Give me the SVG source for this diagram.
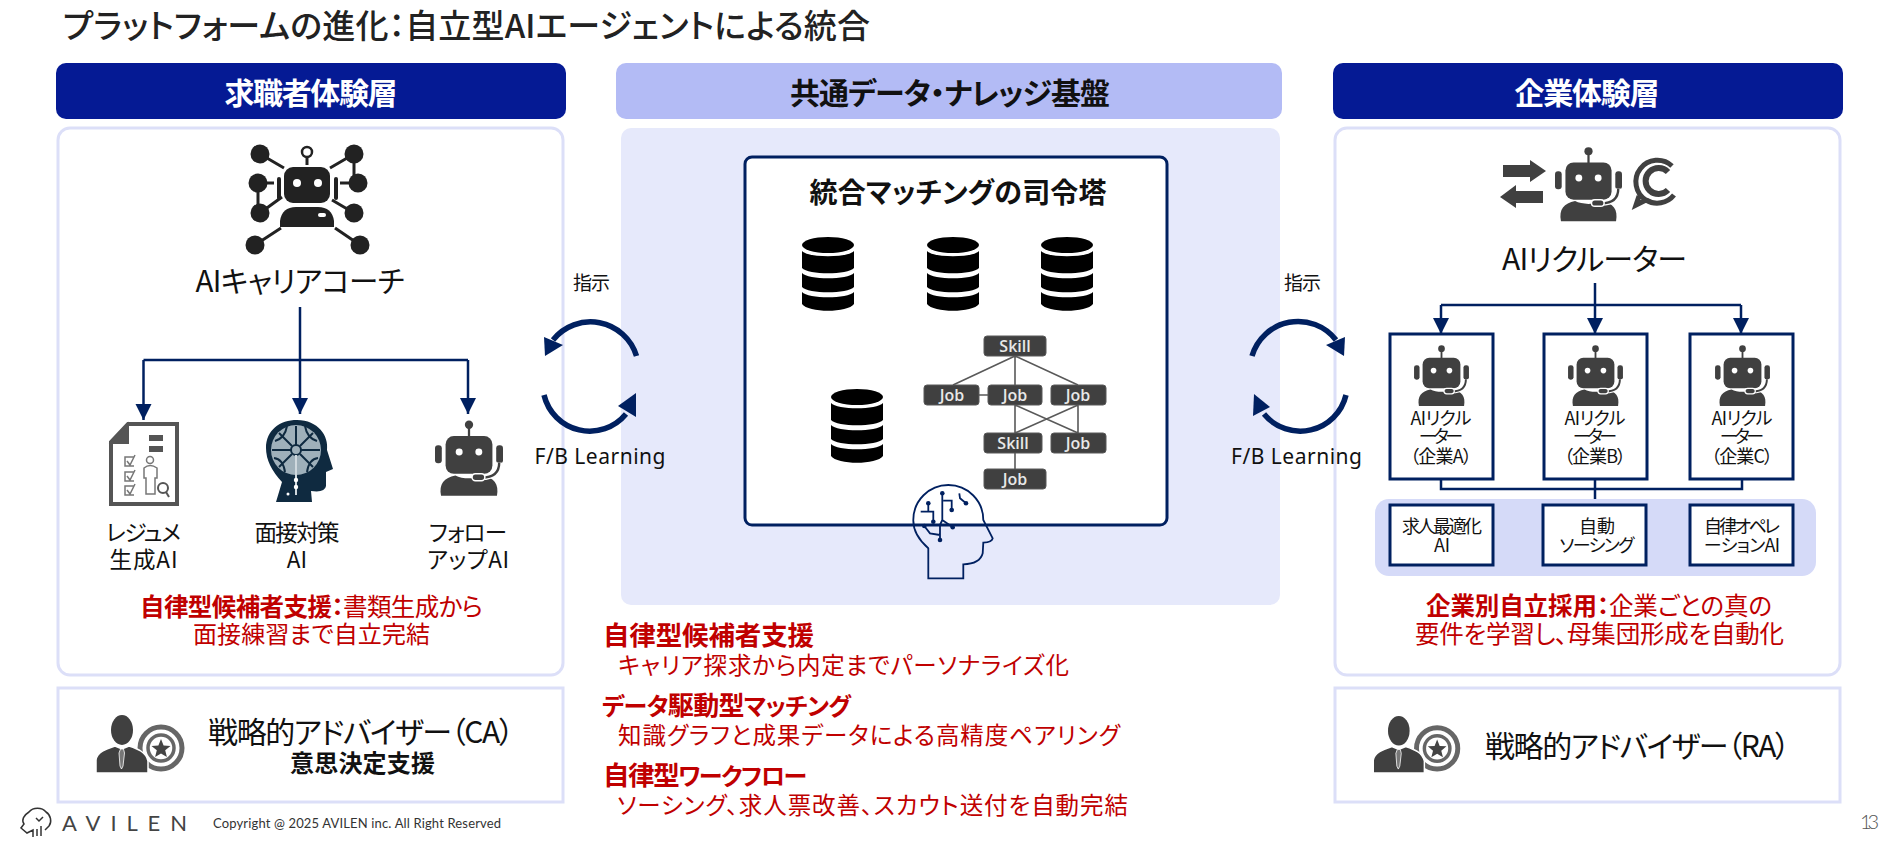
<svg xmlns="http://www.w3.org/2000/svg" width="1899" height="845" viewBox="0 0 1899 845">
<style>
text{font-family:"Noto Sans CJK JP","Noto Sans",sans-serif;font-feature-settings:"palt";fill:#111}
.c{text-anchor:middle}
.b{font-weight:700}
.red{fill:#c00000}
.hw{fill:#fff;font-weight:700;font-size:30px}
.lbl{font-size:22.500px}
.sm{font-size:18px}
.gt{font-family:"Open Sans",sans-serif;font-size:16px;font-weight:600;fill:#e8e8e8;text-anchor:middle}
.gb{fill:#404040;stroke:#595959;stroke-width:1}
.panel{fill:#fff;stroke:#dcdff8;stroke-width:3}
.box{fill:#fff;stroke:#002060;stroke-width:3}
.wire{fill:none;stroke:#002060;stroke-width:2.5}
.loop{fill:none;stroke:#002060;stroke-width:5.5}
.glink{stroke:#595959;stroke-width:1.6;fill:none}
.fb{font-family:"Noto Sans",sans-serif;font-size:21px;text-anchor:middle}
</style>
<defs>
<marker id="tip" markerUnits="userSpaceOnUse" markerWidth="17" markerHeight="17" refX="16" refY="8" orient="auto"><path d="M0 0L16 8L0 16Z" fill="#002060"/></marker>
<symbol id="db" viewBox="0 0 52 74" overflow="visible">
<ellipse cx="26" cy="8" rx="26" ry="8" fill="#000"/>
<path d="M0 14C6 21 46 21 52 14V31C46 38 6 38 0 31Z" fill="#000"/>
<path d="M0 36C6 43 46 43 52 36V50C46 57 6 57 0 50Z" fill="#000"/>
<path d="M0 55C6 62 46 62 52 55V67C46 76 6 76 0 67Z" fill="#000"/>
</symbol>
<symbol id="robot" viewBox="0 0 90 100" overflow="visible">
<g fill="#404040">
<circle cx="45" cy="6" r="5.500"/><rect x="43.500" y="9" width="3" height="14"/>
<rect x="14" y="21" width="62" height="50" rx="11"/>
<rect x="0" y="33" width="9" height="24" rx="4"/><rect x="81" y="33" width="9" height="24" rx="4"/>
<path d="M8 100C5 84 12 76 27 73C36 78 54 78 63 73C78 76 85 84 82 100Z"/>
</g>
<circle cx="32" cy="42" r="4.600" fill="#fff"/><circle cx="58" cy="42" r="4.600" fill="#fff"/>
<path d="M85 56C85 70 76 76 62 76" fill="none" stroke="#fff" stroke-width="6.500"/>
<path d="M85 56C85 70 76 76 62 76" fill="none" stroke="#404040" stroke-width="3.200"/>
<rect x="49" y="71" width="17" height="9" rx="4.500" fill="#404040" stroke="#fff" stroke-width="2"/>
</symbol>
<symbol id="adv" viewBox="0 0 88 58" overflow="visible">
<circle cx="65" cy="33" r="21" fill="#fff" stroke="#666" stroke-width="5"/>
<circle cx="65" cy="33" r="13" fill="#fff" stroke="#666" stroke-width="3.500"/>
<path d="M65 24L67.600 30.400L74.500 30.900L69.200 35.300L70.900 42L65 38.400L59.100 42L60.800 35.300L55.500 30.900L62.400 30.400Z" fill="#444"/>
<ellipse cx="26" cy="15" rx="11" ry="15" fill="#404040"/>
<path d="M0 58V45C1 37 10 34 19 31L26 34L33 31C42 34 50 37 52 46V58Z" fill="#404040" stroke="#fff" stroke-width="1.500"/>
<path d="M24.500 34h3l1 4l-1.500 13l-1.500 3l-1.500 -3l-1 -13z" fill="#777" stroke="#fff" stroke-width="0.800"/>
</symbol>
</defs>

<rect width="1899" height="845" fill="#fff"/>
<text id="title" x="63" y="38" font-size="33" style="fill:#222;font-weight:500" textLength="807" lengthAdjust="spacing">プラットフォームの進化：自立型AIエージェントによる統合</text>

<g id="seeker-header"><rect x="56" y="63" width="510" height="56" rx="10" fill="#051a94"/><text x="311" y="104" class="hw c" textLength="173">求職者体験層</text></g>
<g id="seeker-panel"><rect x="58" y="128" width="505" height="547" rx="12" class="panel"/></g>

<g id="base-header"><rect x="616" y="63" width="666" height="56" rx="10" fill="#b3bbf5"/><text x="950" y="104" class="c b" font-size="30" textLength="320">共通データ・ナレッジ基盤</text></g>
<g id="base-panel"><rect x="621" y="128" width="659" height="477" rx="10" fill="#e6e9fb"/></g>

<g id="company-header"><rect x="1333" y="63" width="510" height="56" rx="10" fill="#051a94"/><text x="1587" y="104" class="hw c" textLength="145">企業体験層</text></g>
<g id="company-panel"><rect x="1335" y="128" width="505" height="547" rx="12" class="panel"/></g>

<g id="ai-coach">
<g stroke="#222" stroke-width="3" fill="none"><path d="M260 154L284 168M354 154L330 168M354 154V183M258 183H274M358 183H340M258 183V213M260 213L282 197M354 213L332 200M255 245L281 228M360 245L335 228M307 157V165"/></g>
<g fill="#222"><circle cx="260" cy="154" r="9.500"/><circle cx="354" cy="154" r="9.500"/><circle cx="258" cy="183" r="9.500"/><circle cx="358" cy="183" r="9.500"/><circle cx="260" cy="213" r="9.500"/><circle cx="354" cy="213" r="9.500"/><circle cx="255" cy="245" r="9.500"/><circle cx="360" cy="245" r="9.500"/>
<rect x="284" y="167" width="46" height="36" rx="9"/><rect x="277" y="177" width="4" height="23" rx="2"/><rect x="334" y="177" width="4" height="23" rx="2"/>
<path d="M280 227V221Q282 207 296 207H318Q332 207 334 221V227Z"/></g>
<circle cx="307" cy="152" r="5" fill="#fff" stroke="#222" stroke-width="2.500"/>
<circle cx="297" cy="183" r="4" fill="#fff"/><circle cx="318" cy="183" r="4" fill="#fff"/><rect x="318" y="213" width="8" height="4" rx="2" fill="#fff"/>
<text x="300" y="292" class="c" font-size="29.500" textLength="209">AIキャリアコーチ</text>
</g>

<g id="resume-ai">
<path d="M128 424H177V504H111V442Z" fill="#fff" stroke="#555" stroke-width="4"/>
<path d="M111 443L128 424V443Z" fill="#555" stroke="#555" stroke-width="2"/>
<g fill="#555"><rect x="149" y="435" width="14" height="6"/><rect x="149" y="446" width="14" height="6"/></g>
<g fill="none" stroke="#777" stroke-width="1.500"><path d="M134 457H125V466H134M127 461L130 465L135 455M134 472H125V481H134M127 476L130 480L135 470M134 486H125V495H134M127 490L130 494L135 484"/><circle cx="150" cy="460" r="3.500"/><path d="M146 494V478H144V468Q150 463 157 468V478H155V494Z"/><circle cx="163" cy="488" r="5" stroke="#555" stroke-width="2"/><path d="M166 492L169 497" stroke="#555" stroke-width="2"/></g>
<text x="143.500" y="541" class="lbl c" textLength="75">レジュメ</text><text x="143.500" y="568" class="lbl c" textLength="68">生成AI</text>
</g>
<g id="interview-ai">
<path d="M276 502L282 482Q266 465 266 448C266 430 280 420 297 420C318 420 329 436 327 450L333 469L326 472V486Q325 493 311 491L312 502Z" fill="#0f2a40"/>
<circle cx="296" cy="450" r="25" fill="#9fb0ba"/>
<g fill="none" stroke="#0f2a40" stroke-width="2"><circle cx="296" cy="450" r="5"/><path d="M296 445V426M291 450H272M301 450H320M292 446L279 433M300 446L313 433M292 454L279 467M300 454L313 467M287 426Q285 438 275 441M305 426Q307 438 317 441M274 458Q283 459 285 472M318 458Q309 459 307 472"/></g>
<path d="M296 455V495" stroke="#cfd8de" stroke-width="2"/>
<g fill="#fff"><circle cx="296" cy="487" r="2.200"/><circle cx="296" cy="480" r="2.200"/><circle cx="288" cy="494" r="1.500"/></g>
<text x="297" y="541" class="lbl c" textLength="85">面接対策</text><text x="297" y="568" class="lbl c">AI</text>
</g>
<g id="followup-ai">
<use href="#robot" x="435" y="420" width="68" height="76"/>
<text x="468" y="541" class="lbl c" textLength="78">フォロー</text><text x="468" y="568" class="lbl c" textLength="82">アップAI</text>
</g>
<g id="seeker-note">
<text x="140" y="616" font-size="24.500" class="red" textLength="343"><tspan class="b red">自律型候補者支援：</tspan>書類生成から</text>
<text x="193" y="643" font-size="24" class="red" textLength="237">面接練習まで自立完結</text>
</g>
<g id="advisor-ca">
<rect x="58" y="688" width="505" height="114" class="panel"/>
<use href="#adv" x="96" y="715" width="88" height="58"/>
<text x="208" y="743" font-size="30" textLength="306">戦略的アドバイザー（CA）</text>
<text x="362.500" y="772" font-size="24" class="c b" textLength="145">意思決定支援</text>
</g>

<g id="command-tower">
<rect x="745" y="157" width="422" height="368" rx="7" class="box"/>
<text x="958" y="203" font-size="28" class="c b" textLength="297">統合マッチングの司令塔</text>
<use href="#db" x="802" y="237" width="52" height="74"/><use href="#db" x="927" y="237" width="52" height="74"/><use href="#db" x="1041" y="237" width="52" height="74"/><use href="#db" x="831" y="389" width="52" height="74"/>
</g>
<g id="knowledge-graph">
<path class="glink" d="M1015 356L953 385M1015 356V385M1015 356L1078 385M979 395H988M1015 405V433M1015 405L1078 433M1078 405L1015 433M1078 405V433M1015 453V469"/>
<rect class="gb" x="984" y="336" width="62" height="20" rx="3"/><rect class="gb" x="924" y="385" width="55" height="20" rx="3"/><rect class="gb" x="988" y="385" width="54" height="20" rx="3"/><rect class="gb" x="1051" y="385" width="55" height="20" rx="3"/><rect class="gb" x="984" y="433" width="58" height="20" rx="3"/><rect class="gb" x="1051" y="433" width="55" height="20" rx="3"/><rect class="gb" x="984" y="469" width="62" height="20" rx="3"/>
<text class="gt" x="1015" y="352">Skill</text><text class="gt" x="952" y="401">Job</text><text class="gt" x="1015" y="401">Job</text><text class="gt" x="1078" y="401">Job</text><text class="gt" x="1013" y="449">Skill</text><text class="gt" x="1078" y="449">Job</text><text class="gt" x="1015" y="485">Job</text>
</g>
<g id="brain-head" fill="none" stroke="#002060" stroke-width="1.800">
<path d="M928.300 578.300V548.300Q913 535 913.300 520A35 35 0 0 1 983.300 520L992.700 538.300Q992 542 983.300 542.700L982.700 553.300Q980 564 963.300 564.300V578.300Z"/>
<path d="M928.300 503.300V511.700M920.700 511.700H933.300V521.700M942.300 493.300V520L952.700 527.300M943.300 500.700H951.700V510M959.300 493.300L960 498.300L966 503.300M924.300 526L930 533.300L940 535M940 525V540M942.300 520L940 525"/>
<g fill="#002060" stroke="none"><circle cx="928.300" cy="503.300" r="2.300"/><circle cx="933.300" cy="521.700" r="2.300"/><circle cx="942.300" cy="493.300" r="2.300"/><circle cx="952.700" cy="527.300" r="2.300"/><circle cx="951.700" cy="510" r="2.300"/><circle cx="966" cy="503.300" r="2.300"/><circle cx="924.300" cy="526" r="2.300"/><circle cx="940" cy="540" r="2.300"/></g>
</g>
<g id="center-notes">
<text x="603" y="645" font-size="26.500" class="b red" textLength="211">自律型候補者支援</text>
<text x="618" y="674" font-size="23.500" class="red" textLength="451">キャリア探求から内定までパーソナライズ化</text>
<text x="602" y="715" font-size="26" class="b red" textLength="249"><tspan font-size="24">データ</tspan>駆動型<tspan font-size="24">マッチング</tspan></text>
<text x="618" y="744" font-size="23.500" class="red" textLength="502">知識グラフと成果データによる高精度ペアリング</text>
<text x="603" y="785" font-size="26.500" class="b red" textLength="204">自律型<tspan font-size="24">ワークフロー</tspan></text>
<text x="617" y="814" font-size="23.500" class="red" textLength="511">ソーシング、求人票改善、スカウト送付を自動完結</text>
</g>

<g id="ai-recruiter">
<path d="M1503 165H1530V160L1546 171L1530 182V177H1503Z" fill="#404040"/>
<path d="M1543 191H1516V185L1500 197L1516 208V203H1543Z" fill="#404040"/>
<use href="#robot" x="1555" y="146" width="67" height="76"/>
<path d="M1672 166A21.500 21.500 0 1 0 1646 200L1636 205L1639 196" fill="none" stroke="#404040" stroke-width="5"/>
<path d="M1646 200A21.500 21.500 0 0 0 1674 195" fill="none" stroke="#404040" stroke-width="5"/>
<path d="M1668 172A13 13 0 1 0 1668 190" fill="none" stroke="#404040" stroke-width="6"/>
<text x="1594.500" y="270" class="c" font-size="30" textLength="185">AIリクルーター</text>
</g>
<g id="recruiter-a"><rect class="box" x="1390" y="334" width="103" height="145"/><use href="#robot" x="1414" y="345" width="55" height="61"/>
<text class="sm c" x="1441" y="425" textLength="61">AIリクル</text><text class="sm c" x="1441" y="443" textLength="44">ーター</text><text class="sm c" x="1441" y="463" textLength="62">（企業A）</text></g>
<g id="recruiter-b"><rect class="box" x="1544" y="334" width="103" height="145"/><use href="#robot" x="1568" y="345" width="55" height="61"/>
<text class="sm c" x="1595" y="425" textLength="61">AIリクル</text><text class="sm c" x="1595" y="443" textLength="44">ーター</text><text class="sm c" x="1595" y="463" textLength="62">（企業B）</text></g>
<g id="recruiter-c"><rect class="box" x="1690" y="334" width="103" height="145"/><use href="#robot" x="1715" y="345" width="55" height="61"/>
<text class="sm c" x="1742" y="425" textLength="61">AIリクル</text><text class="sm c" x="1742" y="443" textLength="44">ーター</text><text class="sm c" x="1742" y="463" textLength="62">（企業C）</text></g>
<g id="agent-band"><rect x="1375" y="499" width="441" height="77" rx="14" fill="#d5daf8"/></g>
<g id="agent-job"><rect class="box" x="1390" y="505" width="103" height="60"/><text class="sm c" x="1442" y="533" textLength="80">求人最適化</text><text class="sm c" x="1442" y="552">AI</text></g>
<g id="agent-sourcing"><rect class="box" x="1543" y="505" width="103" height="60"/><text class="sm c" x="1597" y="533">自動</text><text class="sm c" x="1597" y="552" textLength="75">ソーシング</text></g>
<g id="agent-ops"><rect class="box" x="1690" y="505" width="103" height="60"/><text class="sm c" x="1742" y="533" textLength="76">自律オペレ</text><text class="sm c" x="1742" y="552" textLength="76">ーションAI</text></g>
<g id="company-note">
<text x="1426" y="615" font-size="24.500" class="red" textLength="346"><tspan class="b red">企業別自立採用：</tspan>企業ごとの真の</text>
<text x="1415" y="643" font-size="24.500" class="red" textLength="369">要件を学習し、母集団形成を自動化</text>
</g>
<g id="advisor-ra">
<rect x="1335" y="688" width="505" height="114" class="panel"/>
<use href="#adv" x="1373" y="716" width="87" height="57"/>
<text x="1485" y="757" font-size="30" textLength="305">戦略的アドバイザー（RA）</text>
</g>

<g id="connectors">
<path class="wire" d="M300 307V360"/>
<path class="wire" d="M143.500 360H468"/>
<path class="wire" d="M143.500 360V420" marker-end="url(#tip)"/>
<path class="wire" d="M300 360V414" marker-end="url(#tip)"/>
<path class="wire" d="M468 360V414" marker-end="url(#tip)"/>
<path class="wire" d="M1595 283V305"/>
<path class="wire" d="M1441 305H1741"/>
<path class="wire" d="M1441 305V334" marker-end="url(#tip)"/>
<path class="wire" d="M1595 305V334" marker-end="url(#tip)"/>
<path class="wire" d="M1741 305V334" marker-end="url(#tip)"/>
<path class="wire" d="M1441 479V489H1742V479M1595 479V499"/>
<path class="loop" d="M636.500 356A48 48 0 0 0 553 340"/><path d="M545 356L544 337L563 345Z" fill="#002060"/>
<path class="loop" d="M544 395A47 47 0 0 0 626 414"/><path d="M636 393V417L618 406Z" fill="#002060"/>
<path class="loop" d="M1252 356A48 48 0 0 1 1336 340"/><path d="M1344 356L1345 337L1326 345Z" fill="#002060"/>
<path class="loop" d="M1346 395A47 47 0 0 1 1264 414"/><path d="M1254 394L1253 416L1270 407Z" fill="#002060"/>
</g>
<g id="loop-left-label"><text x="591.500" y="290" font-size="19" class="c" textLength="37">指示</text><text x="600" y="464" class="fb" textLength="131">F/B Learning</text></g>
<g id="loop-right-label"><text x="1302.500" y="290" font-size="19" class="c" textLength="37">指示</text><text x="1296.500" y="464" class="fb" textLength="131">F/B Learning</text></g>

<g id="footer">
<path d="M29 812C33 807 42 807 46 812C51 815 52 822 49 826L45 830M29 812C24 815 21 820 24 824L21 828L27 833L33 830V837M37 836V829M41 836V826M43 817L39 821L36 818" fill="none" stroke="#333" stroke-width="1.500"/>
<text x="62" y="831" font-size="22" textLength="125" lengthAdjust="spacing" style="font-family:Lato,sans-serif;fill:#444">AVILEN</text>
<text x="213" y="828" font-size="13" textLength="288" style="font-family:Lato,sans-serif;fill:#333">Copyright @ 2025 AVILEN inc. All Right Reserved</text>
<text x="1860" y="829" font-size="20" style="font-family:Lato,sans-serif;font-weight:300;fill:#555" textLength="19" lengthAdjust="spacing">13</text>
</g>
</svg>
